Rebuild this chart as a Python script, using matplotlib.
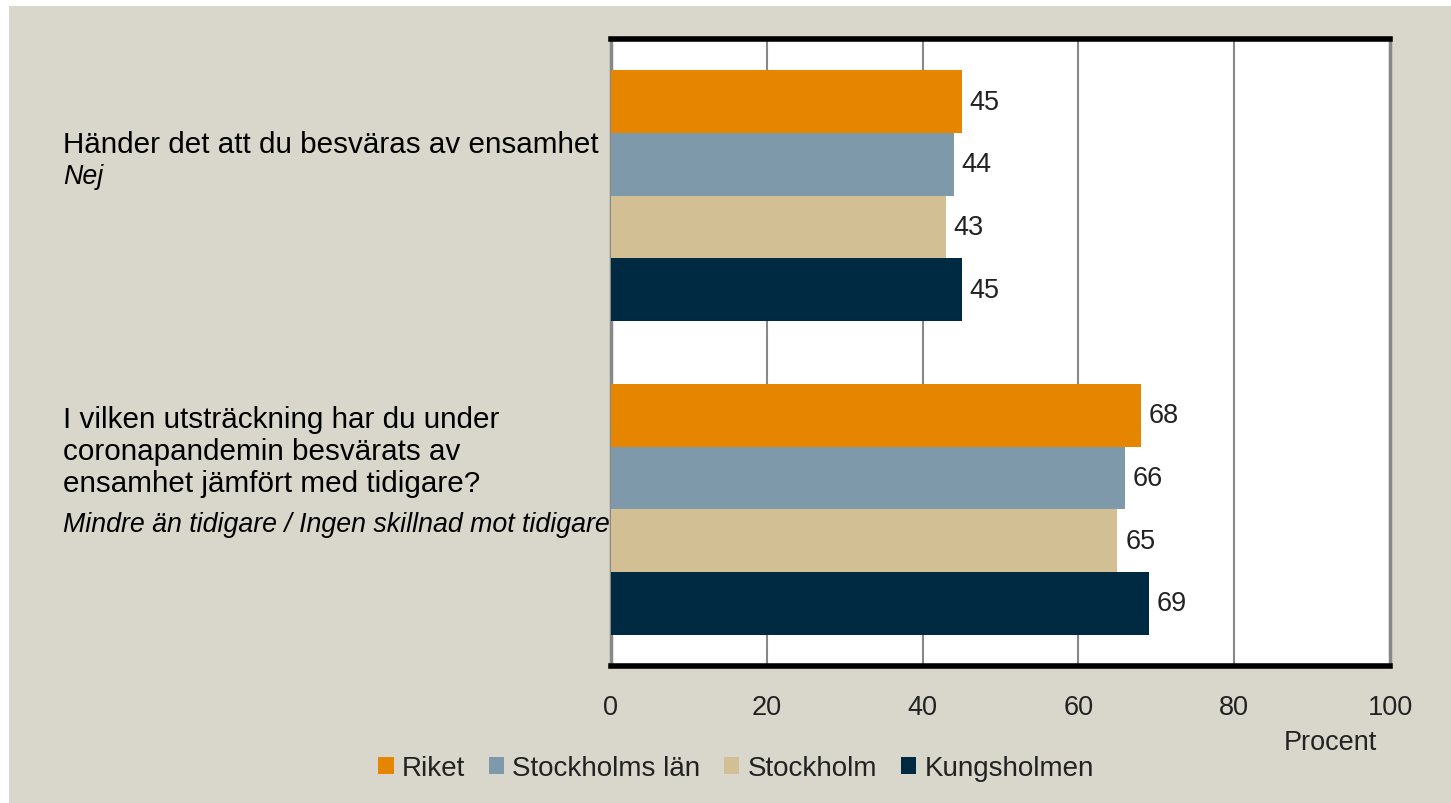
import matplotlib.pyplot as plt
from matplotlib.patches import Rectangle, Patch
import numpy as np

# data
q1_lines = ["Händer det att du besväras av ensamhet"]
q1_answer = "Nej"
q2_lines = ["I vilken utsträckning har du under",
            "coronapandemin besvärats av",
            "ensamhet jämfört med tidigare?"]
q2_answer = "Mindre än tidigare / Ingen skillnad mot tidigare"
series = ["Riket", "Stockholms län", "Stockholm", "Kungsholmen"]
values = {
    "Riket": [45, 68],
    "Stockholms län": [44, 66],
    "Stockholm": [43, 65],
    "Kungsholmen": [45, 69],
}
colors = ["#E68600", "#7E9AAA", "#D2BF94", "#002A42"]
xticks = [0, 20, 40, 60, 80, 100]

bg = "#D9D7CB"
tickfont = ["Liberation Sans", "DejaVu Sans"]
qfont = ["Liberation Sans", "DejaVu Sans"]

fig = plt.figure(figsize=(14.51, 8.04), dpi=100)
fig.patch.set_facecolor("white")
fig.patches.append(Rectangle((9 / 1451, 0), 1, 1 - 7 / 804, transform=fig.transFigure,
                             facecolor=bg, edgecolor="none", zorder=-10))

ax = fig.add_axes([611 / 1451, 1 - 667 / 804, (1390 - 611) / 1451, (667 - 40) / 804])
ax.set_facecolor("white")

# bar positions: groups of four, one empty slot between
for j, name in enumerate(series):
    pos = [1 + j, 6 + j]
    ax.barh(pos, values[name], height=1.0, color=colors[j], zorder=3)
    for p, v in zip(pos, values[name]):
        ax.text(v + 1.0, p, str(v), va="center", ha="left", fontsize=19.5,
                family=tickfont, color="#222222", zorder=4)

ax.set_ylim(10, 0)
ax.set_xlim(0, 100)
ax.set_yticks([])
ax.set_xticks(xticks)
ax.set_xticklabels([str(t) for t in xticks], family=tickfont, fontsize=19.5, color="#222222")
ax.tick_params(axis="x", length=0, pad=20)
ax.xaxis.grid(True, color="#888888", linewidth=1.5, zorder=1)

for s in ["top", "bottom"]:
    ax.spines[s].set_color("black")
    ax.spines[s].set_linewidth(4)
for s in ["left", "right"]:
    ax.spines[s].set_color("#888888")
    ax.spines[s].set_linewidth(2.5)

# question labels
def line(y, s, size=21.3, **kw):
    fig.text(63 / 1451, 1 - y / 804, s, fontsize=size, family=qfont,
             va="center", ha="left", **kw)

for i, s in enumerate(q1_lines):
    line(145 + 32 * i, s)
line(177, q1_answer, size=19.3, style="italic")
for i, s in enumerate(q2_lines):
    line(420 + 32 * i, s)
line(525, q2_answer, size=19.3, style="italic")

fig.text(1330 / 1451, 1 - 743 / 804, "Procent", fontsize=19.5, family=tickfont,
         ha="center", va="center", color="#222222")

handles = [Patch(facecolor=c, edgecolor="none") for c in colors]
leg = fig.legend(handles, series, loc="center", bbox_to_anchor=(736 / 1451, 1 - 769 / 804),
                 ncol=4, frameon=False, handlelength=0.55, handleheight=0.55,
                 handletextpad=0.3, columnspacing=0.85,
                 prop={"family": tickfont, "size": 20})
for t in leg.get_texts():
    t.set_color("#222222")

fig.savefig("out.png", dpi=100, facecolor=fig.get_facecolor())
